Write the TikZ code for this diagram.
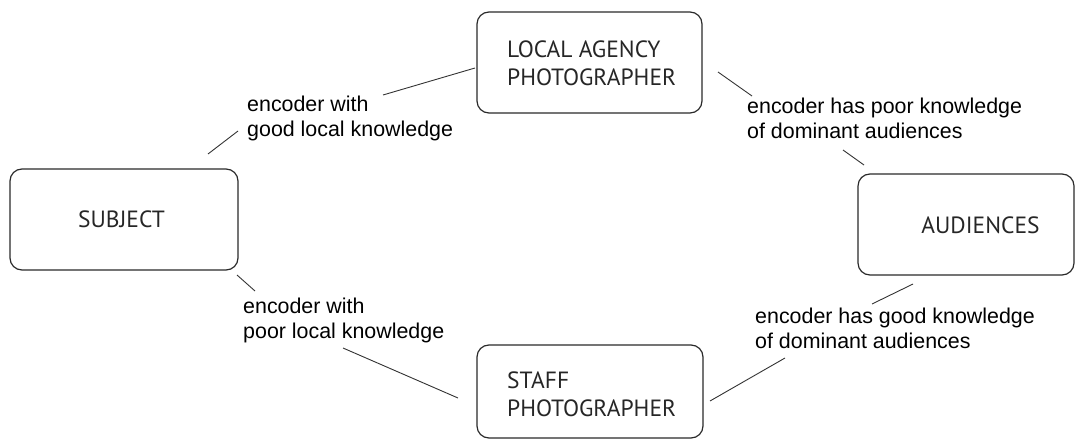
\documentclass[tikz,border=0pt]{standalone}
\usepackage{fontspec}
\setmainfont{Liberation Sans}
\newfontfamily\boxfont{PT Sans}
\definecolor{boxline}{HTML}{2A2A2A}
\definecolor{boxtext}{HTML}{262626}
\definecolor{conline}{HTML}{333333}
\begin{document}
\begin{tikzpicture}[x=1pt,y=-1pt,
  entity/.style={draw=boxline, line width=1.2pt, rounded corners=12pt, inner sep=0pt, minimum height=101pt},
  boxlabel/.style={font=\boxfont\fontsize{23.5}{27.5}\selectfont, text=boxtext, inner sep=0pt, align=left, anchor=base west},
  note/.style={font=\fontsize{21.4}{25}\selectfont, text=black, inner sep=0pt, align=left, anchor=base west},
  conn/.style={draw=conline, line width=0.9pt}]
\useasboundingbox (0,0) rectangle (1076,441);
% boxes
\node[entity, minimum width=228pt] (subj) at (124,219.5) {};
\node[entity, minimum width=225pt] (local) at (589.5,62.5) {};
\node[entity, minimum width=216pt] (aud) at (966,224.5) {};
\node[entity, minimum width=226pt, minimum height=93pt] (staff) at (590,391.5) {};
% box texts (base anchor = baseline of last line)
\node[boxlabel, anchor=base] (subjt) at (121.5,227) {SUBJECT};
\node[boxlabel, anchor=base] (audt) at (980.5,233) {AUDIENCES};
\node[boxlabel] (localt) at (507,85.5) {LOCAL AGENCY\\PHOTOGRAPHER};
\node[boxlabel] (stafft) at (507,416) {STAFF\\PHOTOGRAPHER};
% connector labels
\node[note] (l1) at (247,137) {encoder with\\good local knowledge};
\node[note] (l2) at (747,138.5) {encoder has poor knowledge\\of dominant audiences};
\node[note] (l3) at (243,338) {encoder with\\poor local knowledge};
\node[note] (l4) at (755,348) {encoder has good knowledge\\of dominant audiences};
% connector end points
\coordinate (a1s) at (208,154); \coordinate (a1e) at (238,131);
\coordinate (a2s) at (383,95);  \coordinate (a2e) at (475,68);
\coordinate (b1s) at (718,72);  \coordinate (b1e) at (752,96);
\coordinate (b2s) at (843,150); \coordinate (b2e) at (864,165);
\coordinate (c1s) at (237,275); \coordinate (c1e) at (255,291);
\coordinate (c2s) at (343,348); \coordinate (c2e) at (458,398);
\coordinate (d1s) at (710,401); \coordinate (d1e) at (785,358);
\coordinate (d2s) at (872,304); \coordinate (d2e) at (913,284);
\draw[conn] (a1s) -- (a1e);
\draw[conn] (a2s) -- (a2e);
\draw[conn] (b1s) -- (b1e);
\draw[conn] (b2s) -- (b2e);
\draw[conn] (c1s) -- (c1e);
\draw[conn] (c2s) -- (c2e);
\draw[conn] (d1s) -- (d1e);
\draw[conn] (d2s) -- (d2e);
\end{tikzpicture}
\end{document}
